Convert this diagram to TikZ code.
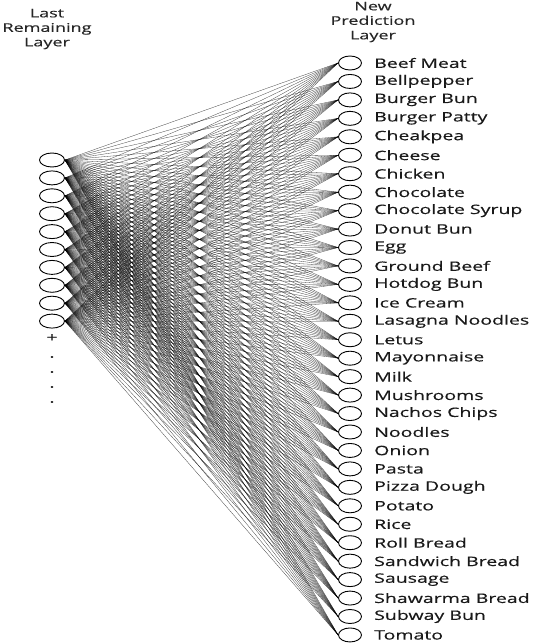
\documentclass[tikz,border=0pt]{standalone}
\usepackage{fontspec}
\newfontfamily\lbl[FakeStretch=1.5,FakeBold=0.4]{Open Sans}
\usetikzlibrary{shapes.geometric}
\begin{document}
\begin{tikzpicture}[x=1pt,y=-1pt,
		neuron/.style={draw,ellipse,line width=0.9pt,inner sep=0pt,minimum width=25pt,minimum height=14pt},
		wire/.style={line width=0.3pt,black,opacity=0.75},
		item/.style={font=\lbl\fontsize{13}{15}\selectfont,anchor=west,inner sep=0pt,text=black!90},
		head/.style={font=\lbl\fontsize{12}{14.5}\selectfont,align=center,inner sep=0pt,text=black!85}]
		\useasboundingbox (0,0) rectangle (540,644);
		\node[head] (lasthead) at (47,29) {Last\\Remaining\\Layer};
		\node[head] (newhead) at (373,22) {New\\Prediction\\Layer};
		\foreach \i in {1,...,10}
		\node[neuron] (l\i) at (52,{160+17.9*(\i-1)}) {};
		\node[item,anchor=center] (plus) at (52,338) {+};
		\foreach \y [count=\k] in {357,372,387,402}
		\node[item,anchor=center] (dot\k) at (52,\y) {.};
		\foreach \name [count=\j] in {Beef Meat,Bellpepper,Burger Bun,Burger Patty,Cheakpea,Cheese,Chicken,Chocolate,Chocolate Syrup,Donut Bun,Egg,Ground Beef,Hotdog Bun,Ice Cream,Lasagna Noodles,Letus,Mayonnaise,Milk,Mushrooms,Nachos Chips,Noodles,Onion,Pasta,Pizza Dough,Potato,Rice,Roll Bread,Sandwich Bread,Sausage,Shawarma Bread,Subway Bun,Tomato}
		{
			\node[neuron,minimum width=23pt] (r\j) at (350,{63+18.45*(\j-1)}) {};
			\node[item] (t\j) at (374,{63+18.45*(\j-1)}) {\name};
		}
		\foreach \i in {1,...,10}
		\foreach \j in {1,...,32}
		\draw[wire] (l\i.east) -- (r\j.west);
	\end{tikzpicture}
\end{document}
